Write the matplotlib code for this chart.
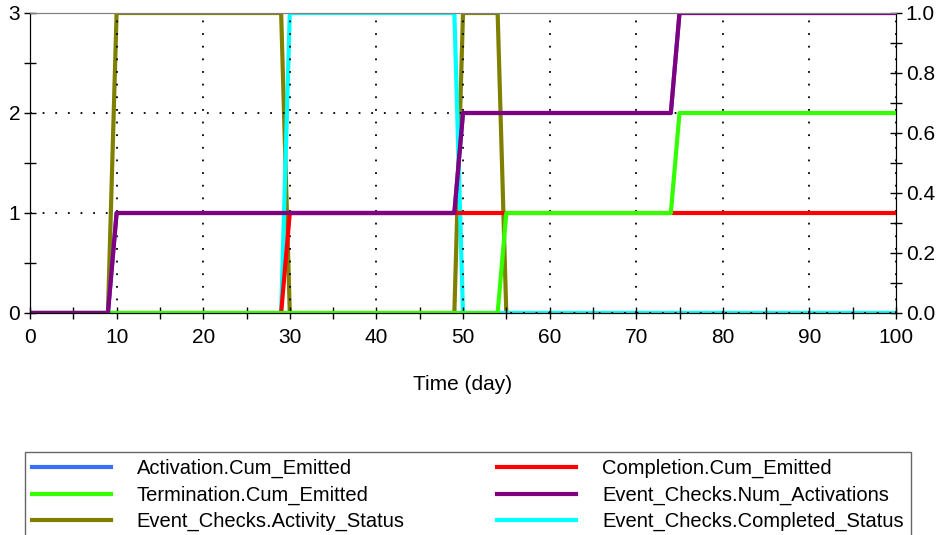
import numpy as np
import matplotlib.pyplot as plt
from matplotlib.ticker import MultipleLocator, FormatStrFormatter

plt.rcParams['font.family'] = ['Liberation Sans', 'DejaVu Sans']

# 时间点（天）及各序列取值
t = [0, 9, 10, 29, 30, 49, 50, 54, 55, 74, 75, 100]
activation_cum = [0, 0, 1, 1, 1, 1, 2, 2, 2, 2, 3, 3]
completion_cum = [0, 0, 0, 0, 1, 1, 1, 1, 1, 1, 1, 1]
termination_cum = [0, 0, 0, 0, 0, 0, 0, 0, 1, 1, 2, 2]
num_activations = [0, 0, 1, 1, 1, 1, 2, 2, 2, 2, 3, 3]
activity_status = [0, 0, 1, 1, 0, 0, 1, 1, 0, 0, 0, 0]
completed_status = [0, 0, 0, 0, 1, 1, 0, 0, 0, 0, 0, 0]

fig = plt.figure(figsize=(9.41, 5.35), dpi=100)
ax = fig.add_axes([30 / 941, 1 - 313 / 535, 866 / 941, 300 / 535])
ax2 = ax.twinx()
# 左轴画在右轴之上
ax.set_zorder(ax2.get_zorder() + 1)
ax.patch.set_visible(False)

lw = 3
l_olive, = ax2.plot(t, activity_status, color='#808000', lw=lw, label='Event_Checks.Activity_Status')
l_cyan, = ax2.plot(t, completed_status, color='#00ffff', lw=lw, label='Event_Checks.Completed_Status')
l_blue, = ax.plot(t, activation_cum, color='#3a6ff7', lw=lw, label='Activation.Cum_Emitted')
l_red, = ax.plot(t, completion_cum, color='#ff0000', lw=lw, label='Completion.Cum_Emitted')
l_green, = ax.plot(t, termination_cum, color='#33ff00', lw=lw, label='Termination.Cum_Emitted')
l_purple, = ax.plot(t, num_activations, color='#800080', lw=lw, label='Event_Checks.Num_Activations')

ax.set_xlim(0, 100)
ax.set_ylim(0, 3)
ax2.set_ylim(0, 1)

ax.xaxis.set_major_locator(MultipleLocator(10))
ax.xaxis.set_minor_locator(MultipleLocator(5))
ax.yaxis.set_major_locator(MultipleLocator(1))
ax.yaxis.set_minor_locator(MultipleLocator(0.5))
ax2.yaxis.set_major_locator(MultipleLocator(0.2))
ax2.yaxis.set_minor_locator(MultipleLocator(0.1))
ax2.yaxis.set_major_formatter(FormatStrFormatter('%.1f'))

for a in (ax, ax2):
    a.tick_params(which='both', direction='inout', length=8, width=1, labelsize=15, pad=3)
    a.spines['top'].set_color('#808080')
    a.spines['top'].set_linewidth(0.8)
ax.tick_params(axis='x', pad=7)

ax.grid(True, which='major', color='black', linestyle=(0, (1, 6)), linewidth=1.3)

ax.set_xlabel('Time (day)', fontsize=15, labelpad=20)

handles = [l_blue, l_green, l_olive, l_red, l_purple, l_cyan]
leg = fig.legend(handles=handles, loc='upper left', ncol=2,
                 bbox_to_anchor=(25 / 941, 1 - 452 / 535), fontsize=14.5,
                 frameon=True, fancybox=False, edgecolor='#404040',
                 handlelength=3.9, handletextpad=1.3, columnspacing=4.6,
                 labelspacing=0.36, borderpad=0.35, borderaxespad=0)
leg.get_frame().set_linewidth(1)

fig.savefig('out.png', dpi=100)
